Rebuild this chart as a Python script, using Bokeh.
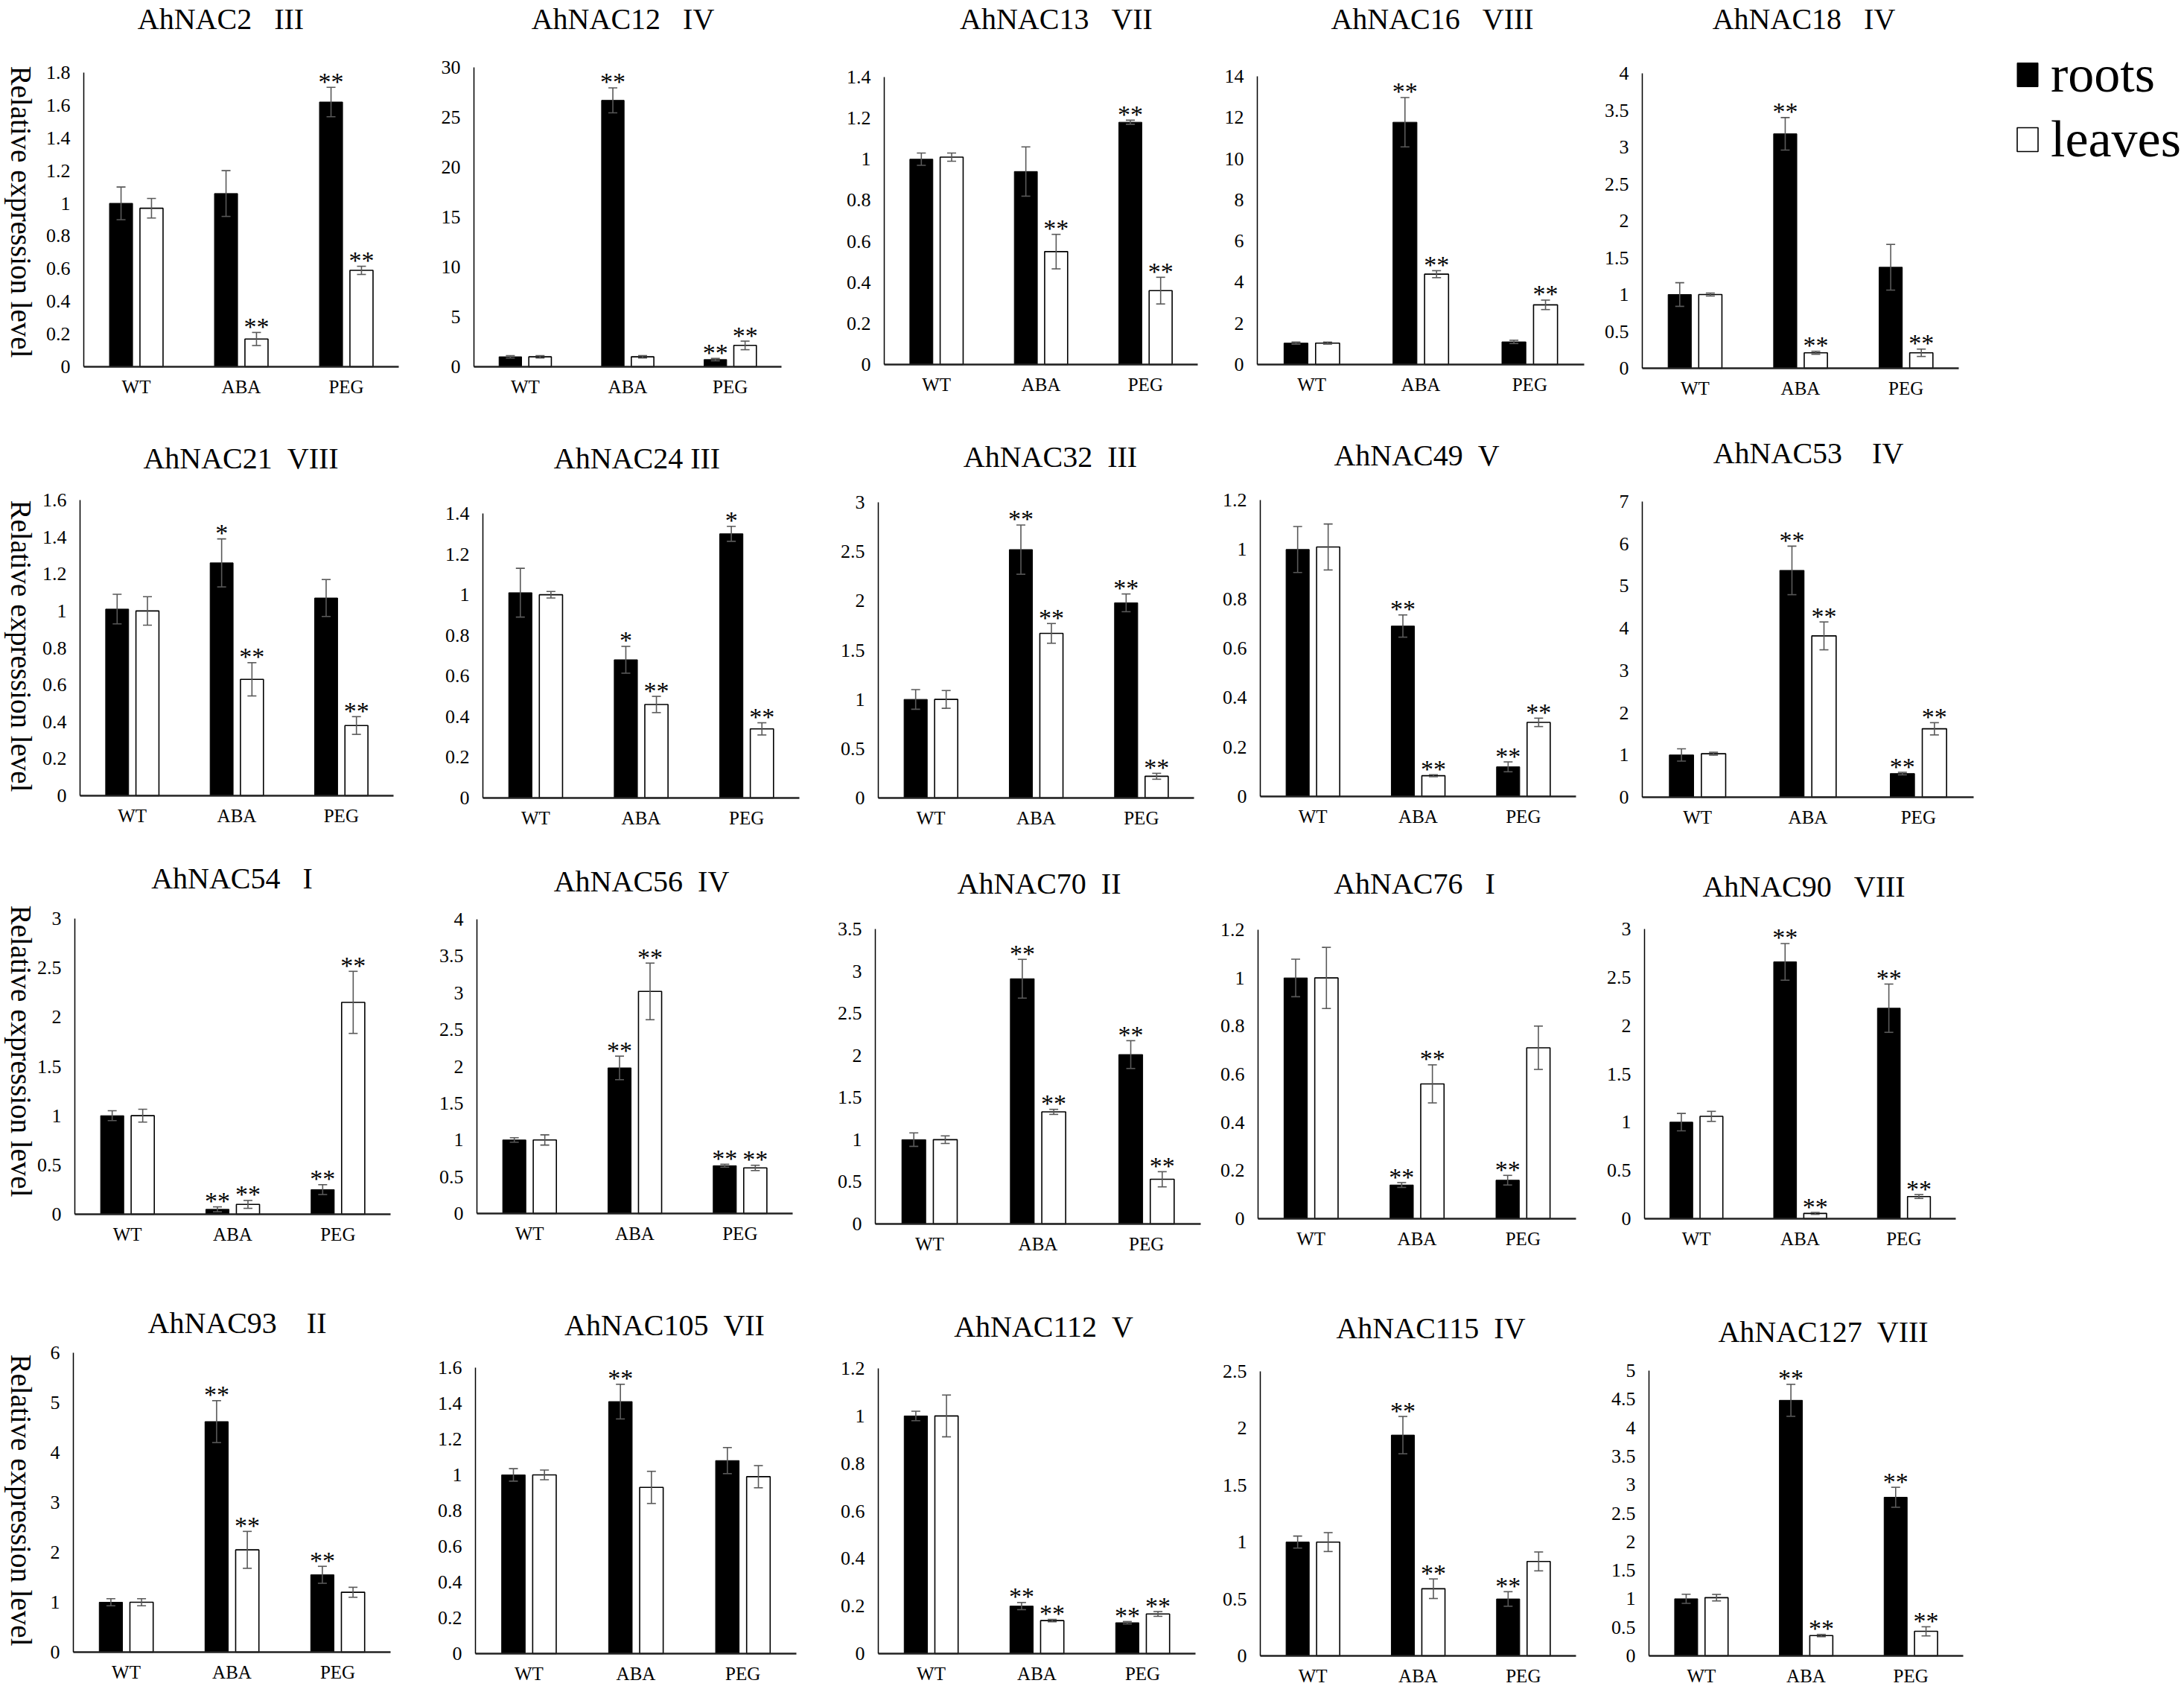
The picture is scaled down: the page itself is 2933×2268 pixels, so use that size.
import math
from bokeh.plotting import figure
from bokeh.models import (ColumnDataSource, Range1d, FixedTicker, Whisker,
                          TeeHead, Label, Legend, LegendItem)
from bokeh.layouts import row, column
from bokeh.embed import file_html
from bokeh.resources import INLINE
from bokeh.core.properties import value

# ---------------- data ----------------
groups = ["WT", "ABA", "PEG"]
NB = "\u00a0"
gene_ids = ["AhNAC2", "AhNAC12", "AhNAC13", "AhNAC16", "AhNAC18",
            "AhNAC21", "AhNAC24", "AhNAC32", "AhNAC49", "AhNAC53",
            "AhNAC54", "AhNAC56", "AhNAC70", "AhNAC76", "AhNAC90",
            "AhNAC93", "AhNAC105", "AhNAC112", "AhNAC115", "AhNAC127"]
gene_groups = ["III", "IV", "VII", "VIII", "IV",
               "VIII", "III", "III", "V", "IV",
               "I", "IV", "II", "I", "VIII",
               "II", "VII", "V", "IV", "VIII"]
title_gaps = [3, 3, 3, 3, 3, 2, 1, 2, 2, 4, 3, 2, 2, 3, 3, 4, 2, 2, 2, 2]

roots_mean = [[1.00, 1.06, 1.62], [1.0, 26.7, 0.72], [1.00, 0.94, 1.18], [1.04, 11.77, 1.10],
              [1.00, 3.18, 1.37],
              [1.01, 1.26, 1.07], [1.01, 0.68, 1.30], [1.00, 2.52, 1.98], [1.00, 0.69, 0.12],
              [1.00, 5.37, 0.56],
              [1.00, 0.05, 0.25], [1.00, 1.98, 0.65], [1.00, 2.91, 2.01], [1.00, 0.14, 0.16],
              [1.00, 2.66, 2.18],
              [1.00, 4.62, 1.55], [1.00, 1.41, 1.08], [1.00, 0.20, 0.13], [1.00, 1.94, 0.50],
              [1.00, 4.48, 2.78]]
roots_sd = [[0.10, 0.14, 0.09], [0.12, 1.25, 0.12], [0.03, 0.12, 0.01], [0.05, 1.20, 0.08],
            [0.16, 0.22, 0.31],
            [0.08, 0.13, 0.10], [0.12, 0.066, 0.037], [0.10, 0.25, 0.09], [0.093, 0.045, 0.02],
            [0.145, 0.575, 0.03],
            [0.05, 0.025, 0.05], [0.03, 0.16, 0.02], [0.08, 0.23, 0.165], [0.078, 0.01, 0.02],
            [0.09, 0.19, 0.25],
            [0.07, 0.42, 0.17], [0.035, 0.097, 0.073], [0.02, 0.015, 0.005], [0.053, 0.164, 0.064],
            [0.08, 0.28, 0.175]]
leaves_mean = [[0.97, 0.17, 0.59], [1.0, 1.0, 2.14], [1.01, 0.55, 0.36], [1.04, 4.39, 2.90],
               [1.00, 0.21, 0.21],
               [1.00, 0.63, 0.38], [1.00, 0.46, 0.34], [1.00, 1.67, 0.22], [1.01, 0.084, 0.30],
               [1.03, 3.82, 1.62],
               [1.00, 0.10, 2.15], [1.00, 3.02, 0.62], [1.00, 1.33, 0.53], [1.00, 0.56, 0.71],
               [1.06, 0.055, 0.23],
               [1.00, 2.05, 1.20], [1.00, 0.93, 0.99], [1.00, 0.139, 0.167], [1.00, 0.59, 0.83],
               [1.02, 0.356, 0.43]]
leaves_sd = [[0.06, 0.04, 0.025], [0.12, 0.12, 0.43], [0.02, 0.084, 0.065], [0.05, 0.17, 0.23],
             [0.02, 0.02, 0.05],
             [0.077, 0.09, 0.048], [0.016, 0.04, 0.03], [0.09, 0.10, 0.03], [0.093, 0.004, 0.017],
             [0.035, 0.33, 0.145],
             [0.065, 0.04, 0.315], [0.07, 0.385, 0.036], [0.045, 0.03, 0.09], [0.127, 0.079, 0.09],
             [0.052, 0.01, 0.02],
             [0.07, 0.37, 0.10], [0.027, 0.09, 0.062], [0.088, 0.005, 0.01], [0.083, 0.086, 0.083],
             [0.057, 0.02, 0.08]]
roots_sig = [["", "", "**"], ["", "**", "**"], ["", "", "**"], ["", "**", ""], ["", "**", ""],
             ["", "*", ""], ["", "*", "*"], ["", "**", "**"], ["", "**", "**"], ["", "**", "**"],
             ["", "**", "**"], ["", "**", "**"], ["", "**", "**"], ["", "**", "**"], ["", "**", "**"],
             ["", "**", "**"], ["", "**", ""], ["", "**", "**"], ["", "**", "**"], ["", "**", "**"]]
leaves_sig = [["", "**", "**"], ["", "", "**"], ["", "**", "**"], ["", "**", "**"], ["", "**", "**"],
              ["", "**", "**"], ["", "**", "**"], ["", "**", "**"], ["", "**", "**"], ["", "**", "**"],
              ["", "**", "**"], ["", "**", "**"], ["", "**", "**"], ["", "**", ""], ["", "**", "**"],
              ["", "**", ""], ["", "", ""], ["", "**", "**"], ["", "**", ""], ["", "**", "**"]]
y_max = [1.8, 30, 1.4, 14, 4, 1.6, 1.4, 3, 1.2, 7, 3, 4, 3.5, 1.2, 3, 6, 1.6, 1.2, 2.5, 5]
y_step = [0.2, 5, 0.2, 2, 0.5, 0.2, 0.2, 0.5, 0.2, 1, 0.5, 0.5, 0.5, 0.2, 0.5, 1, 0.2, 0.2, 0.5, 0.5]
y_title = "Relative expression level"
legend_labels = ["roots", "leaves"]

# ---------------- layout (page pixels; the page body has no margin) ----------------
col_cuts = [0, 575, 1115, 1635, 2150, 2928]
row_cuts = [0, 585, 1150, 1728, 2265]
frame_l = [112, 636, 1187, 1688, 2205, 107, 648, 1179, 1692, 2205,
           100, 640, 1175, 1689, 2208, 98, 638, 1179, 1692, 2214]
frame_r = [535, 1049, 1608, 2127, 2630, 528, 1073, 1603, 2116, 2650,
           524, 1064, 1612, 2116, 2626, 524, 1069, 1605, 2116, 2636]
frame_t = [97, 90, 103, 102, 98, 671, 689, 674, 671, 673,
           1233, 1234, 1247, 1248, 1247, 1816, 1836, 1837, 1841, 1840]
frame_b = [492, 492, 489, 489, 494, 1068, 1071, 1071, 1069, 1070,
           1630, 1629, 1643, 1636, 1636, 2218, 2220, 2220, 2223, 2223]
title_x = [296, 836, 1418, 1923, 2422, 323, 855, 1410, 1902, 2428,
           311, 861, 1395, 1899, 2422, 318, 892, 1401, 1921, 2448]
title_y = [25, 25, 25, 25, 25, 615, 615, 613, 611, 608,
           1179, 1183, 1186, 1186, 1190, 1776, 1779, 1781, 1783, 1788]
TITLE_PX = 40
ylabel_x = 28
ylabel_y = [284, 867, 1411, 2014]
legend_x, legend_bottom = 2705, 227
SERIF = "Liberation Serif"
ERR = "#595959"
BW = 0.22
OFF = 0.145


def make_panel(i):
    r, c = divmod(i, 5)
    x0, x1 = col_cuts[c], col_cuts[c + 1]
    y0, y1 = row_cuts[r], row_cuts[r + 1]
    L, R, T, B = frame_l[i], frame_r[i], frame_t[i], frame_b[i]
    ymax = y_max[i]
    unit = (R - L) / 3.0
    xs, xe = -(L - x0) / unit, 3 + (x1 - R) / unit
    per_px = ymax / (B - T)
    ys, ye = -(y1 - B) * per_px, (B - y0) * per_px

    p = figure(x_range=Range1d(xs, xe), y_range=Range1d(ys, ye),
               width=x1 - x0, height=y1 - y0,
               min_border_left=0, min_border_right=0, min_border_top=0, min_border_bottom=0,
               output_backend="svg", toolbar_location=None, tools="")
    p.outline_line_color = None
    p.xgrid.visible = False
    p.ygrid.visible = False
    p.background_fill_color = "white"
    p.border_fill_color = "white"

    n = int(round(ymax / y_step[i]))
    ticks = []
    for k in range(n + 1):
        t = round(k * y_step[i], 6)
        ticks.append(int(t) if t == int(t) else t)
    ya = p.yaxis[0]
    ya.fixed_location = 0
    ya.ticker = FixedTicker(ticks=ticks)
    ya.major_label_overrides = {t: f"{t:g}" for t in ticks}
    ya.bounds = (0, ymax)
    ya.axis_line_color = "black"
    ya.axis_line_width = 1.5
    ya.major_tick_line_color = None
    ya.minor_tick_line_color = None
    ya.major_tick_in = 0
    ya.major_tick_out = 0
    ya.minor_tick_in = 0
    ya.minor_tick_out = 0
    ya.major_label_text_font = SERIF
    ya.major_label_text_font_size = "26px"
    ya.major_label_text_color = "black"
    ya.major_label_standoff = 18

    centers = [k + 0.5 for k in range(len(groups))]
    xa = p.xaxis[0]
    xa.fixed_location = 0
    xa.ticker = FixedTicker(ticks=centers)
    xa.major_label_overrides = {cx: g for cx, g in zip(centers, groups)}
    xa.bounds = (0, len(groups))
    xa.axis_line_color = "#222222"
    xa.axis_line_width = 2.5
    xa.major_tick_line_color = None
    xa.minor_tick_line_color = None
    xa.major_tick_in = 0
    xa.major_tick_out = 0
    xa.minor_tick_in = 0
    xa.minor_tick_out = 0
    xa.major_label_text_font = SERIF
    xa.major_label_text_font_size = "25px"
    xa.major_label_text_color = "black"
    xa.major_label_standoff = 13

    rm, rs = roots_mean[i], roots_sd[i]
    lm, ls = leaves_mean[i], leaves_sd[i]
    src = ColumnDataSource(dict(
        xr=[cx - OFF for cx in centers], xl=[cx + OFF for cx in centers], rm=rm, lm=lm,
        rlo=[m - s for m, s in zip(rm, rs)], rhi=[m + s for m, s in zip(rm, rs)],
        llo=[m - s for m, s in zip(lm, ls)], lhi=[m + s for m, s in zip(lm, ls)],
        rsig=roots_sig[i], lsig=leaves_sig[i]))

    rr = p.vbar(x="xr", top="rm", width=BW, source=src, fill_color="black",
                line_color="black", line_width=1)
    lr = p.vbar(x="xl", top="lm", width=BW, source=src, fill_color="white",
                line_color="black", line_width=1.6)

    for base, lo, hi in (("xr", "rlo", "rhi"), ("xl", "llo", "lhi")):
        w = Whisker(source=src, base=base, lower=lo, upper=hi, level="annotation",
                    line_color=ERR, line_width=1.6,
                    upper_head=TeeHead(size=12, line_color=ERR, line_width=1.6),
                    lower_head=TeeHead(size=12, line_color=ERR, line_width=1.6))
        p.add_layout(w)

    for base, top, sig in (("xr", "rhi", "rsig"), ("xl", "lhi", "lsig")):
        p.text(x=base, y=top, text=sig, source=src, text_font=value(SERIF),
               text_font_size="34px", text_align="center", text_baseline="alphabetic",
               text_color="black", y_offset=-8)

    # panel title (screen units, relative to the frame's bottom-left corner)
    title = gene_ids[i] + NB * title_gaps[i] + gene_groups[i]
    p.add_layout(Label(x=title_x[i] - x0, y=y1 - title_y[i], x_units="screen", y_units="screen",
                       text=title, text_align="center", text_baseline="middle",
                       text_font=SERIF, text_font_size=f"{TITLE_PX}px", text_color="black"))

    if c == 0:
        p.add_layout(Label(x=ylabel_x - x0, y=y1 - ylabel_y[r], x_units="screen",
                           y_units="screen", text=y_title, angle=-math.pi / 2,
                           text_align="center", text_baseline="middle",
                           text_font=SERIF, text_font_size="39px", text_color="black"))

    if i == 4:
        leg = Legend(items=[LegendItem(label=legend_labels[0], renderers=[rr]),
                            LegendItem(label=legend_labels[1], renderers=[lr])],
                     location=(legend_x - x0, y1 - legend_bottom), orientation="vertical",
                     glyph_width=35, glyph_height=40, label_standoff=14, spacing=7,
                     padding=0, margin=0, border_line_color=None,
                     background_fill_alpha=0, label_text_font=SERIF,
                     label_text_font_size="70px", label_text_color="black")
        p.add_layout(leg)
    return p


figs = [make_panel(i) for i in range(20)]
layout = column(*[row(*figs[k * 5:(k + 1) * 5]) for k in range(4)])
open("out.html", "w").write(file_html(layout, INLINE))
